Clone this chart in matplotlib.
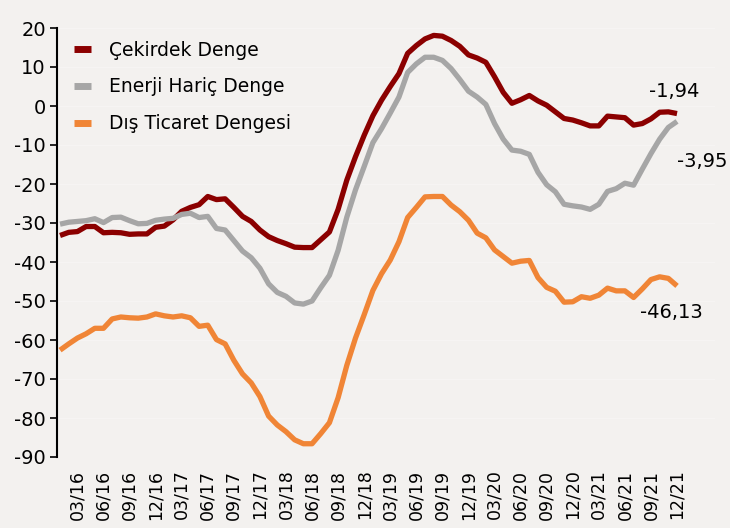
import numpy as np
import matplotlib
matplotlib.use("Agg")
import matplotlib.pyplot as plt

plt.rcParams['font.family'] = ['DejaVu Sans']
plt.rcParams['axes.unicode_minus'] = False

# monthly data, 01/16 - 12/21
cekirdek = [-33.2, -32.4, -32.2, -30.9, -30.9, -32.5, -32.4, -32.5, -32.9, -32.8, -32.8, -31.1,
            -30.8, -29.2, -27.0, -26.0, -25.3, -23.2, -24.0, -23.8, -26.0, -28.3, -29.6, -31.8,
            -33.5, -34.5, -35.3, -36.2, -36.3, -36.3, -34.3, -32.3, -26.5, -19.0, -13.0, -7.5,
            -2.5, 1.5, 5.0, 8.3, 13.5, 15.5, 17.2, 18.1, 17.9, 16.8, 15.3, 13.1,
            12.3, 11.2, 7.5, 3.5, 0.7, 1.6, 2.7, 1.3, 0.2, -1.5, -3.2, -3.6,
            -4.3, -5.1, -5.1, -2.6, -2.8, -3.0, -4.9, -4.5, -3.3, -1.6, -1.5, -1.94]
enerji_haric = [-30.3, -29.8, -29.6, -29.4, -28.9, -29.9, -28.6, -28.5, -29.4, -30.2, -30.1, -29.3,
                -29.0, -28.8, -27.8, -27.5, -28.6, -28.3, -31.4, -31.8, -34.5, -37.2, -38.9, -41.6,
                -45.6, -47.8, -48.8, -50.5, -50.8, -50.0, -46.6, -43.4, -37.0, -28.5, -21.5, -15.5,
                -9.4, -5.8, -1.8, 2.3, 8.6, 10.8, 12.5, 12.5, 11.7, 9.6, 6.8, 3.8,
                2.3, 0.4, -4.5, -8.5, -11.3, -11.6, -12.4, -17.0, -20.2, -22.0, -25.2, -25.6,
                -25.9, -26.5, -25.2, -21.9, -21.2, -19.8, -20.3, -16.2, -12.2, -8.5, -5.5, -3.95]
dis_ticaret = [-62.6, -61.0, -59.5, -58.4, -57.0, -57.0, -54.6, -54.1, -54.3, -54.4, -54.1, -53.3,
               -53.8, -54.1, -53.8, -54.3, -56.5, -56.2, -59.9, -61.0, -65.2, -68.7, -71.0, -74.5,
               -79.5, -81.8, -83.5, -85.6, -86.6, -86.6, -84.0, -81.2, -74.8, -66.5, -59.5, -53.5,
               -47.3, -43.0, -39.5, -34.8, -28.6, -26.0, -23.3, -23.2, -23.2, -25.4, -27.1, -29.3,
               -32.6, -33.8, -36.9, -38.6, -40.3, -39.8, -39.6, -44.0, -46.5, -47.5, -50.3, -50.2,
               -48.9, -49.3, -48.5, -46.7, -47.4, -47.4, -49.1, -46.9, -44.5, -43.8, -44.2, -46.13]

months = []
for yy in range(16, 22):
    for mm in range(1, 13):
        months.append(f"{mm:02d}/{yy}")

series_names = ['Çekirdek Denge', 'Enerji Hariç Denge', 'Dış Ticaret Dengesi']
colors = ['#8B0000', '#A6A6A6', '#F08536']
end_labels = ['-1,94', '-3,95', '-46,13']

bg = '#F3F1EF'
fs = 14
fig = plt.figure(figsize=(7.3, 5.28), dpi=100, facecolor=bg)
ax = fig.add_axes([57/730, 1 - 457/528, 658/730, (457 - 28)/528])
ax.set_facecolor(bg)

x = np.arange(len(months))
for data, name, c in zip([cekirdek, enerji_haric, dis_ticaret], series_names, colors):
    ax.plot(x, data, color=c, lw=3.8, label=name, solid_joinstyle='round', solid_capstyle='butt')

ax.set_ylim(-90, 20)
ax.set_xlim(-0.35, -0.35 + 658/8.69)
ax.set_yticks(np.arange(-90, 21, 10))
ax.yaxis.grid(True, color='white', lw=0.8, alpha=0.25)
ax.set_axisbelow(True)

tick_idx = list(range(2, len(months), 3))
ax.set_xticks(tick_idx)
ax.set_xticklabels([months[i] for i in tick_idx], rotation=90, fontsize=12.5)
ax.tick_params(axis='x', length=0, pad=9)
ax.tick_params(axis='y', direction='out', length=5, width=1.2, pad=3, labelsize=fs)

for s in ['top', 'right', 'bottom']:
    ax.spines[s].set_visible(False)
ax.spines['left'].set_linewidth(1.5)

# end-of-series labels
ax.annotate(end_labels[0], (x[-1], cekirdek[-1]), xytext=(-20, 16), textcoords='offset points',
            ha='left', va='center', fontsize=fs, annotation_clip=False)
ax.annotate(end_labels[1], (x[-1], enerji_haric[-1]), xytext=(0, -29), textcoords='offset points',
            ha='left', va='center', fontsize=fs, annotation_clip=False)
ax.annotate(end_labels[2], (x[-1], dis_ticaret[-1]), xytext=(-27, -19), textcoords='offset points',
            ha='left', va='center', fontsize=fs, annotation_clip=False)

leg = ax.legend(loc='upper left', bbox_to_anchor=(0.0, 1.01), frameon=False, fontsize=13.5,
                handlelength=0.9, handletextpad=0.95, labelspacing=0.95)
for h in leg.get_lines():
    h.set_linewidth(5)

fig.savefig('out.png', dpi=100, facecolor=bg)
